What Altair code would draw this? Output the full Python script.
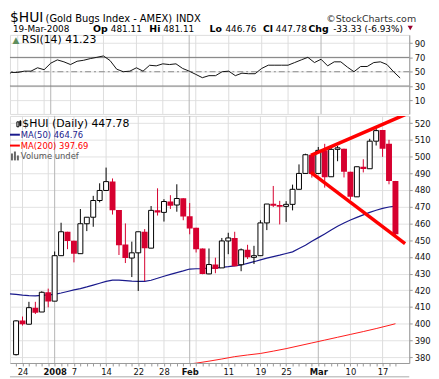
import altair as alt
import pandas as pd

# ---------------- data ----------------
day_idx = list(range(-1, 59))   # -1 = 21-Dec-2007 ... 58 = 19-Mar-2008
opens = [381.5, 401.9, 399.7, 409.6, 407.0, 418.8, 413.5, 440.7, 455.0, 449.7,
         441.9, 459.8, 463.7, 473.7, 479.7, 485.0, 468.0, 447.4, 439.3, 442.4,
         455.0, 445.2, 467.8, 466.6, 473.1, 471.0, 475.1, 464.3, 457.4, 445.0,
         429.8, 435.4, 433.4, 449.5, 451.3, 435.3, 444.2, 439.7, 440.7, 460.3,
         471.8, 471.0, 470.2, 471.4, 480.4, 489.9, 501.1, 489.9, 503.7, 487.9,
         504.3, 504.7, 490.9, 475.9, 493.9, 492.7, 509.2, 515.9, 507.6, 485.4]
highs = [402.0, 404.3, 413.1, 413.1, 419.4, 421.0, 443.2, 460.4, 455.0, 449.7,
         468.6, 463.7, 476.5, 484.0, 493.4, 486.9, 468.0, 460.0, 449.1, 455.0,
         456.6, 470.4, 481.0, 474.5, 476.9, 483.4, 475.1, 472.2, 457.4, 445.0,
         445.0, 439.5, 451.3, 454.4, 455.0, 445.0, 447.2, 446.6, 461.9, 471.6,
         482.4, 473.5, 473.3, 483.2, 495.3, 501.7, 501.1, 505.7, 507.6, 506.3,
         506.3, 504.7, 490.9, 493.9, 498.4, 510.6, 517.5, 515.9, 510.0, 485.4]
lows = [381.0, 398.9, 399.7, 405.8, 407.0, 409.8, 413.5, 440.7, 444.6, 436.7,
        441.9, 455.4, 458.0, 472.6, 479.7, 465.3, 441.1, 436.3, 427.9, 419.6,
        425.5, 445.2, 464.7, 461.1, 468.6, 467.0, 461.9, 453.5, 442.6, 429.6,
        429.6, 430.2, 433.4, 441.6, 434.4, 431.4, 438.7, 435.7, 440.7, 456.0,
        469.8, 459.4, 460.9, 467.8, 480.4, 489.9, 487.4, 489.9, 481.4, 487.9,
        497.2, 487.5, 474.2, 475.9, 490.5, 492.7, 506.6, 499.8, 483.4, 452.5]
closes = [401.7, 399.7, 409.6, 406.6, 418.8, 413.3, 440.7, 455.0, 449.5, 441.9,
          459.8, 463.7, 473.7, 479.7, 485.0, 467.8, 447.0, 439.3, 442.4, 455.0,
          445.2, 467.8, 466.5, 473.1, 470.6, 474.9, 464.1, 457.0, 444.6, 429.8,
          435.4, 432.8, 449.5, 451.3, 434.4, 444.2, 439.7, 440.7, 460.3, 471.6,
          470.6, 470.0, 471.4, 480.4, 489.9, 501.1, 489.5, 503.7, 487.6, 504.3,
          505.2, 490.9, 475.9, 493.9, 492.5, 509.2, 515.5, 504.7, 485.4, 453.5]

line_idx = list(range(-2, 59))
rsi_vals = [42.0, 49.0, 49.0, 50.8, 50.8, 55.5, 52.8, 61.9, 66.5, 63.8,
            60.0, 64.6, 66.0, 68.3, 70.1, 72.0, 65.6, 53.6, 50.0, 50.8,
            55.5, 50.8, 59.0, 58.2, 61.0, 60.0, 61.0, 54.6, 50.8, 46.3,
            41.7, 44.5, 44.5, 50.0, 50.8, 44.5, 48.0, 47.2, 47.2, 54.6,
            59.1, 59.1, 59.1, 59.1, 62.8, 66.5, 70.1, 62.8, 67.4, 58.2,
            63.8, 63.8, 56.4, 50.0, 57.3, 57.3, 62.8, 63.8, 60.0, 50.0, 41.23]
ma50_vals = [417.9, 417.5, 417.1, 416.8, 416.7, 416.9, 417.2, 417.6, 418.4, 419.3,
             420.2, 421.0, 422.0, 423.1, 424.2, 425.3, 426.1, 426.1, 425.8, 425.5,
             425.3, 425.3, 426.0, 427.2, 428.4, 429.5, 430.6, 431.6, 432.7, 432.9,
             433.0, 433.2, 433.4, 433.7, 434.1, 434.6, 435.1, 436.1, 437.1, 438.2,
             439.2, 440.1, 441.0, 442.0, 443.0, 445.0, 446.9, 449.3, 451.5, 453.7,
             456.0, 458.3, 460.3, 462.0, 463.6, 465.1, 466.6, 467.9, 469.0, 469.8, 470.3]
ma200_idx = [25, 27, 29, 31, 33, 35, 37, 39, 41, 43, 45, 47, 49, 51, 53, 55, 57, 58]
ma200_vals = [375.5, 376.4, 377.6, 378.9, 380.3, 381.3, 382.2, 383.6, 385.1, 386.8,
              388.5, 390.2, 391.9, 393.6, 395.3, 397.1, 399.0, 400.0]

tick_idx = [0, 5, 8, 13, 18, 22, 26, 32, 37, 41, 46, 51, 56]
tick_labels = ["24", "2008", "7", "14", "22", "28", "Feb", "11", "19", "25", "Mar", "10", "17"]
week_grid = [0, 4, 8, 13, 18, 22, 27, 32, 37, 41, 51, 56]
month_grid = [5, 26, 46]

trend_x = [44.85, 59.5, 44.85, 59.5]
trend_y = [500.7, 525.1, 490.5, 447.9]
trend_id = ["upper", "upper", "lower", "lower"]

rsi_levels_solid = [30, 70]
rsi_level_mid = [50]

# ---------------- styling ----------------
RED = "#D6002F"
NAVY = "#1A1A8C"
FONT = "DejaVu Sans"
W = 404
H_RSI = 80
H_MAIN = 250

xscale = alt.Scale(domain=[-1.18, 59.38], nice=False, zero=False)
rsi_scale = alt.Scale(domain=[-8.9, 101.4], nice=False, zero=False)
price_scale = alt.Scale(domain=[376.5, 524.3], nice=False, zero=False)

label_expr = "".join(f"datum.value == {i} ? '{t}' : " for i, t in zip(tick_idx, tick_labels)) + "''"
bold_test = " || ".join(f"datum.value == {i}" for i in month_grid)

xaxis_main = alt.Axis(values=list(range(-1, 59)), labelExpr=label_expr, grid=False,
                      tickSize=3, tickColor="#999999", domainColor="#999999",
                      labelFont=FONT, labelFontSize=8.5, labelColor="#111111",
                      labelPadding=2, labelOverlap=False, labelFlush=False,
                      labelFontWeight={"condition": {"test": bold_test, "value": "bold"}, "value": "normal"},
                      title=None)

def yaxis(vals, grid=True):
    return alt.Axis(orient="right", values=vals, grid=grid, gridColor="#E2E2E2",
                    tickSize=3, tickColor="#999999", domainColor="#999999",
                    labelFont=FONT, labelFontSize=8.5, labelColor="#111111",
                    labelPadding=2, title=None)

rsi_axis = yaxis([10, 30, 50, 70, 90])
price_axis = yaxis(list(range(380, 521, 10)))

dummy = pd.DataFrame({"d": [0]})
week_df = pd.DataFrame({"i": week_grid})
month_df = pd.DataFrame({"i": month_grid})


def vgrid(x_axis):
    g1 = alt.Chart(week_df).mark_rule(color="#DDDDDD", strokeWidth=1).encode(
        x=alt.X("i:Q", scale=xscale, axis=x_axis))
    g2 = alt.Chart(month_df).mark_rule(color="#B5B5B5", strokeWidth=1).encode(
        x=alt.X("i:Q", scale=xscale, axis=x_axis))
    return [g1, g2]


def txt(text, x, y, size=9, weight="normal", color="black", font=FONT, align="left", baseline="alphabetic"):
    return alt.Chart(dummy).mark_text(text=text, fontSize=size, fontWeight=weight, color=color,
                                      font=font, align=align, baseline=baseline).encode(
        x=alt.value(x), y=alt.value(y))


# ---------------- RSI panel ----------------
rsi_df = pd.DataFrame({"i": line_idx, "v": rsi_vals})
lvl_df = pd.DataFrame({"v": rsi_levels_solid})
mid_df = pd.DataFrame({"v": rsi_level_mid})

rsi_layers = vgrid(None) + [
    alt.Chart(lvl_df).mark_rule(color="#7A7A7A", strokeWidth=1).encode(
        y=alt.Y("v:Q", scale=rsi_scale, axis=rsi_axis)),
    alt.Chart(mid_df).mark_rule(color="#8A8A8A", strokeWidth=1, strokeDash=[6, 3, 2, 3]).encode(
        y=alt.Y("v:Q", scale=rsi_scale, axis=rsi_axis)),
    alt.Chart(rsi_df).mark_line(color="#111111", strokeWidth=1, clip=True).encode(
        x=alt.X("i:Q", scale=xscale, axis=None),
        y=alt.Y("v:Q", scale=rsi_scale, axis=rsi_axis)),
    txt("▲", 6, 5, size=9, color="#5E8F5E", align="center", baseline="middle"),
    txt("RSI(14) 41.23", 12, 5, size=11, baseline="middle"),
    # header line 1
    txt("$HUI", 0, -13, size=14),
    txt("(Gold Bugs Index - AMEX)", 36, -13, size=10),
    txt("INDX", 168, -13, size=10),
    txt("©StockCharts.com", 320, -13, size=9.6, color="#333333"),
    # header line 2
    txt("19-Mar-2008", 3, -3, size=9),
    txt("Op", 84, -3, size=9.5, weight="bold"),
    txt("481.11", 102, -3, size=9),
    txt("Hi", 141, -3, size=9.5, weight="bold"),
    txt("481.11", 155, -3, size=9),
    txt("Lo", 202, -3, size=9.5, weight="bold"),
    txt("446.76", 218, -3, size=9),
    txt("Cl", 256, -3, size=9.5, weight="bold"),
    txt("447.78", 269, -3, size=9),
    txt("Chg", 302, -3, size=9.5, weight="bold"),
    txt("-33.33 (-6.93%)", 327, -3, size=9),
    alt.Chart(dummy).mark_point(shape="triangle-down", filled=True, color="#99002E", size=28, opacity=1).encode(
        x=alt.value(405), y=alt.value(-7)),
]
rsi_chart = alt.layer(*rsi_layers).properties(width=W, height=H_RSI)

# ---------------- price panel ----------------
df = pd.DataFrame({"i": day_idx, "o": opens, "h": highs, "l": lows, "c": closes})
df["dir"] = ["up" if c >= o else "down" for o, c in zip(opens, closes)]
ma50_df = pd.DataFrame({"i": line_idx, "v": ma50_vals})
ma200_df = pd.DataFrame({"i": ma200_idx, "v": ma200_vals})
trend_df = pd.DataFrame({"i": trend_x, "v": trend_y, "k": trend_id})

X = alt.X("i:Q", scale=xscale, axis=xaxis_main)

main_layers = vgrid(xaxis_main) + [
    alt.Chart(ma200_df).mark_line(color="#FF1A1A", strokeWidth=1, clip=True).encode(
        x=X, y=alt.Y("v:Q", scale=price_scale, axis=price_axis)),
    alt.Chart(ma50_df).mark_line(color=NAVY, strokeWidth=1.2, clip=True).encode(
        x=X, y=alt.Y("v:Q", scale=price_scale, axis=price_axis)),
    alt.Chart(df).mark_rule(strokeWidth=1, clip=True).encode(
        x=X, y=alt.Y("l:Q", scale=price_scale, axis=price_axis), y2="h:Q",
        color=alt.Color("dir:N", scale=alt.Scale(domain=["up", "down"], range=["#000000", RED]), legend=None)),
    alt.Chart(df).transform_filter("datum.dir == 'down'").mark_bar(size=6, color=RED, clip=True).encode(
        x=X, y=alt.Y("o:Q", scale=price_scale, axis=price_axis), y2="c:Q"),
    alt.Chart(df).transform_filter("datum.dir == 'up'").mark_bar(
        size=5, fill="white", stroke="black", strokeWidth=1, clip=True).encode(
        x=X, y=alt.Y("o:Q", scale=price_scale, axis=price_axis), y2="c:Q"),
    alt.Chart(trend_df).mark_line(color="#FF0000", strokeWidth=3.5, clip=True).encode(
        x=X, y=alt.Y("v:Q", scale=price_scale, axis=price_axis), detail="k:N"),
    # legend
    alt.Chart(dummy).mark_rect(fill="white", stroke="black", strokeWidth=1).encode(
        x=alt.value(7), x2=alt.value(9), y=alt.value(6), y2=alt.value(11)),
    alt.Chart(dummy).mark_rect(fill="black", stroke="black", strokeWidth=1).encode(
        x=alt.value(10), x2=alt.value(11), y=alt.value(5), y2=alt.value(10)),
    txt("$HUI (Daily) 447.78", 12.5, 8.5, size=11, baseline="middle"),
    alt.Chart(dummy).mark_rule(color=NAVY, strokeWidth=2).encode(
        x=alt.value(0), x2=alt.value(10), y=alt.value(19)),
    txt("MA(50) 464.76", 11, 19, size=8.5, color=NAVY, baseline="middle"),
    alt.Chart(dummy).mark_rule(color="#FF0000", strokeWidth=2).encode(
        x=alt.value(0), x2=alt.value(10), y=alt.value(30)),
    txt("MA(200) 397.69", 11, 30, size=8.5, color="#FF0000", baseline="middle"),
    alt.Chart(dummy).mark_rect(fill="#666666").encode(
        x=alt.value(1), x2=alt.value(3), y=alt.value(38), y2=alt.value(45)),
    alt.Chart(dummy).mark_rect(fill="#666666").encode(
        x=alt.value(4), x2=alt.value(6), y=alt.value(36), y2=alt.value(45)),
    alt.Chart(dummy).mark_rect(fill="#666666").encode(
        x=alt.value(7), x2=alt.value(9), y=alt.value(40), y2=alt.value(45)),
    txt("Volume undef", 11, 41, size=8.5, color="#555555", baseline="middle"),
    # top edge of the (cut off) panel below
    alt.Chart(dummy).mark_rule(color="#AAAAAA", strokeWidth=1).encode(
        x=alt.value(0), x2=alt.value(W), y=alt.value(H_MAIN + 14)),
]
main_chart = alt.layer(*main_layers).properties(width=W, height=H_MAIN)

chart = alt.vconcat(rsi_chart, main_chart, spacing=0).properties(
    padding={"left": 0, "right": 0, "top": 0, "bottom": 0}
).configure_view(stroke="#A8A8A8", strokeWidth=1).configure(font=FONT, background="white")

chart.save("out.html", embed_options={"renderer": "svg", "actions": False})
